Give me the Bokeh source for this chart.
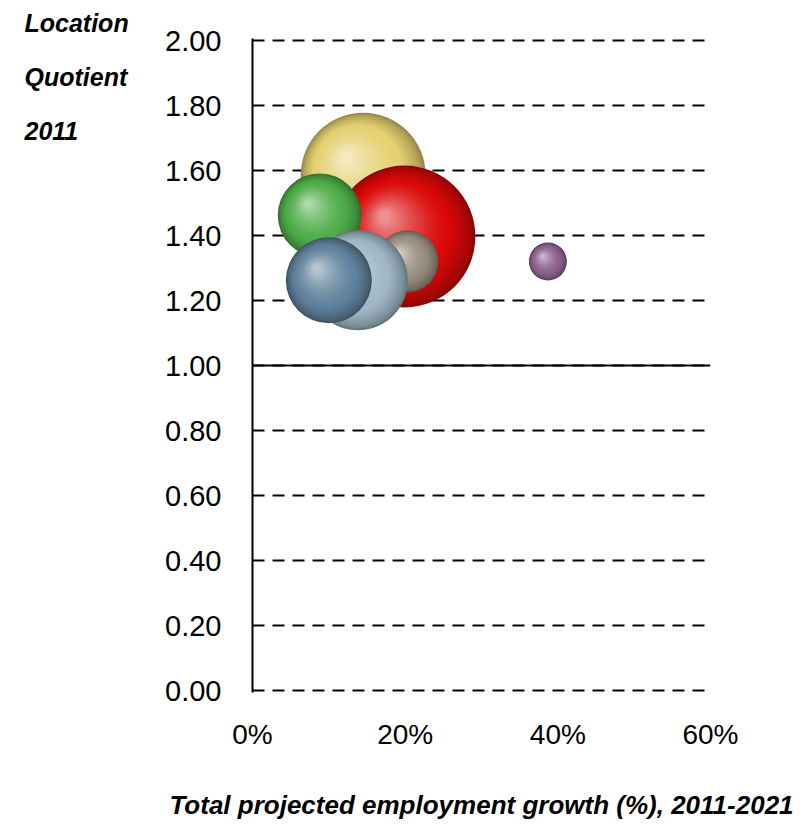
import numpy as np
from bokeh.plotting import figure
from bokeh.layouts import row
from bokeh.models import Range1d, FixedTicker, NumeralTickFormatter, Span, Label, Title, ColumnDataSource
from bokeh.embed import file_html
from bokeh.resources import INLINE

# ---------------- data ----------------
bubble_names = ["Yellow", "Red", "Green", "Tan", "Light grey-blue", "Steel blue", "Purple"]
growth = [0.145, 0.199, 0.088, 0.203, 0.138, 0.100, 0.387]      # total projected employment growth 2011-2021
lq = [1.586, 1.397, 1.462, 1.320, 1.262, 1.262, 1.320]          # location quotient 2011
employment = [39.0, 50.4, 17.6, 9.6, 25.0, 18.5, 3.6]           # bubble size measure
base_colors = [(228, 208, 112), (218, 8, 8), (78, 172, 72), (150, 140, 126),
               (160, 184, 198), (96, 130, 156), (138, 98, 140)]
y_ticks = [0.0, 0.2, 0.4, 0.6, 0.8, 1.0, 1.2, 1.4, 1.6, 1.8, 2.0]
x_ticks = [0.0, 0.2, 0.4, 0.6]
x_title = "Total projected employment growth (%), 2011-2021"
y_title = ["Location", "Quotient", "2011"]
reference_lq = 1.0

# ---------------- layout ----------------
H = 822
LW = 140                     # width of the side panel holding the y title
W = 800 - LW
BL, BR, BT, BB = 252 - LW, 90, 40, 132
FW, FH = W - BL - BR, H - BT - BB
X0, X1, Y0, Y1 = 0.0, 0.6, 0.0, 2.0
xs = FW / (X1 - X0)
ys = FH / (Y1 - Y0)
PAD = 2.0 / ys  # keep the 0.00 and 2.00 grid lines visible

FONT = "Liberation Sans"

p = figure(width=W, height=H, output_backend="svg", toolbar_location=None,
           x_range=Range1d(X0, X1), y_range=Range1d(Y0 - PAD, Y1 + PAD),
           min_border_left=BL, min_border_right=BR, min_border_top=BT - 2, min_border_bottom=BB - 2)
p.outline_line_color = None
p.background_fill_color = "white"
p.border_fill_color = "white"

# y axis
ya = p.yaxis[0]
ya.ticker = FixedTicker(ticks=y_ticks)
ya.formatter = NumeralTickFormatter(format="0.00")
ya.major_label_text_font = FONT
ya.major_label_text_font_size = "29px"
ya.major_label_text_color = "black"
ya.major_label_standoff = 31
ya.axis_line_color = "black"
ya.axis_line_width = 2
ya.major_tick_out = 0
ya.major_tick_in = 0
ya.minor_tick_line_color = None

# x axis
xa = p.xaxis[0]
xa.ticker = FixedTicker(ticks=x_ticks)
xa.formatter = NumeralTickFormatter(format="0%")
xa.major_label_text_font = FONT
xa.major_label_text_font_size = "28px"
xa.major_label_text_color = "black"
xa.major_label_standoff = 26
xa.axis_line_color = None
xa.major_tick_out = 0
xa.major_tick_in = 0
xa.minor_tick_line_color = None
xa.axis_label = x_title
xa.axis_label_text_font = FONT
xa.axis_label_text_font_style = "bold italic"
xa.axis_label_text_font_size = "26px"
xa.axis_label_text_color = "black"
xa.axis_label_standoff = 37

# grids
p.xgrid.grid_line_color = None
p.ygrid.ticker = FixedTicker(ticks=y_ticks)
p.ygrid.grid_line_color = "black"
p.ygrid.grid_line_width = 2
p.ygrid.grid_line_dash = "12 8"

p.add_layout(Span(location=reference_lq, dimension="width", line_color="black", line_width=2))

# ---------------- spheres ----------------
def mix(c1, c2, t):
    return tuple(int(round(a + (b - a) * t)) for a, b in zip(c1, c2))

def hexc(c):
    return "#%02x%02x%02x" % c

N = 30
for gx, gy, emp, base in zip(growth, lq, employment, base_colors):
    d = 20.0 * np.sqrt(emp)          # diameter in px
    r = d / 2.0
    edge = mix(base, (0, 0, 0), 0.35)
    hi = mix(base, (255, 255, 255), 0.55)
    xsrc, ysrc, sz, col = [], [], [], []
    for i in range(N):
        t = i / (N - 1)
        size = d * (1 - 0.92 * t)
        off = 0.28 * r * t
        xsrc.append(gx - off / xs)
        ysrc.append(gy + off / ys)
        sz.append(size)
        if t < 0.3:
            c = mix(edge, base, (t / 0.3) ** 0.7)
        else:
            c = mix(base, hi, ((t - 0.3) / 0.7) ** 1.4)
        col.append(hexc(c))
    src = ColumnDataSource(dict(x=xsrc, y=ysrc, size=sz, color=col))
    p.scatter("x", "y", size="size", source=src, marker="circle",
              fill_color="color", line_color=None)

# ---------------- y title (side panel) ----------------
# the row aligns this panel's frame with the main frame (page y 38 .. 692)
FT, FB = BT - 2, H - (BB - 2)
side = figure(width=LW, height=H, output_backend="svg", toolbar_location=None,
              x_range=Range1d(0, LW), y_range=Range1d(FB, FT),
              min_border=0)
side.axis.visible = False
side.grid.grid_line_color = None
side.outline_line_color = None
side.background_fill_color = "white"
side.border_fill_color = "white"

# first line sits above the frame: use a title so it is not clipped
side.add_layout(Title(text=y_title[0], align="left", offset=24, vertical_align="bottom",
                      standoff=4, text_font=FONT, text_font_style="bold italic",
                      text_font_size="25px", text_color="black"), "above")
title_y = [22, 76, 130]
for txt, cy in zip(y_title[1:], title_y[1:]):
    side.add_layout(Label(x=24, y=cy, text=txt, text_font=FONT, text_font_style="bold italic",
                          text_font_size="25px", text_color="black",
                          text_align="left", text_baseline="middle"))

layout = row(side, p, spacing=0)
open("out.html", "w").write(file_html(layout, INLINE))
